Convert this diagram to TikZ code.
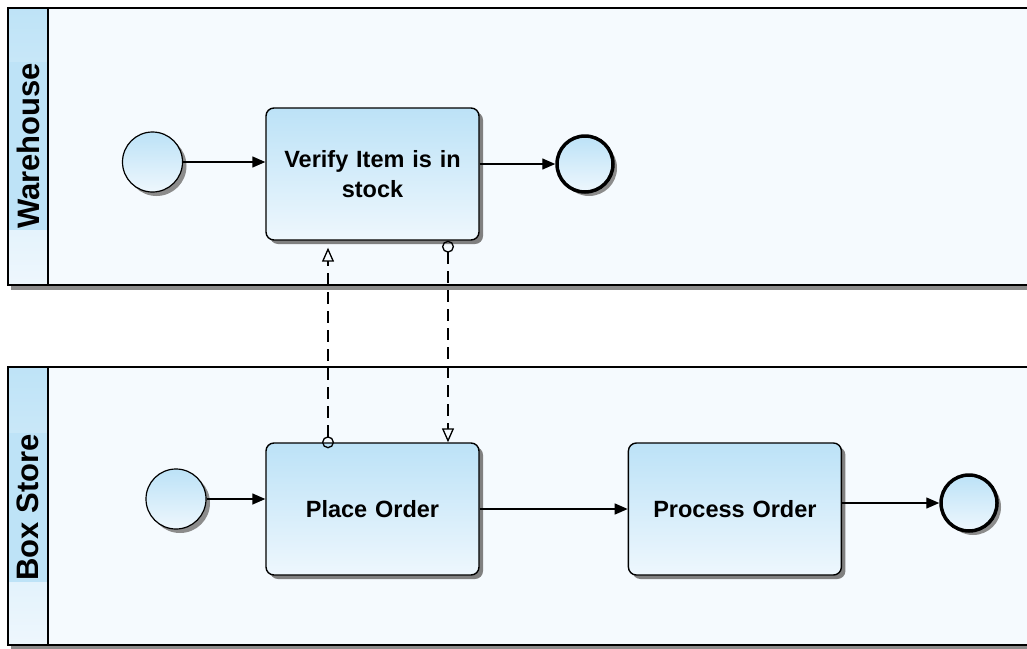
\documentclass[tikz,border=0pt]{standalone}
\usepackage{fontspec}
\setmainfont{Liberation Sans}
\usepackage{tikz}
\usetikzlibrary{ positioning, arrows.meta, shadows }
\usepackage{xcolor}
\definecolor{poolbg}{HTML}{F5FAFE}
\definecolor{lanehi}{HTML}{BEE3F7}
\definecolor{gradtop}{HTML}{BCE2F7}
\definecolor{gradbot}{HTML}{EEF7FD}

\begin{document}
\begin{tikzpicture}[
  x=1pt, y=-1pt,
  node distance=148pt,
  pool/.style={draw, line width=2.2pt, fill=poolbg,
               drop shadow={shadow xshift=3pt, shadow yshift=-5pt, fill=black!45, opacity=1}},
  band/.style={draw, line width=1.6pt, top color=lanehi, bottom color=gradbot},
  lane/.style={rotate=90, fill=lanehi, minimum height=38pt, inner sep=1pt,
               font=\bfseries\fontsize{31}{31}\selectfont},
  task/.style={draw, line width=1.4pt, rounded corners=8pt, top color=gradtop, bottom color=gradbot,
               minimum width=213pt, minimum height=132pt, text width=200pt, align=center,
               font=\bfseries\fontsize{23.5}{30}\selectfont,
               drop shadow={shadow xshift=4pt, shadow yshift=-4pt, fill=black!50, opacity=1}},
  startev/.style={circle, draw, line width=1.2pt, top color=gradtop, bottom color=gradbot,
                  minimum size=60pt, inner sep=0pt,
                  drop shadow={shadow xshift=4pt, shadow yshift=-4pt, fill=black!45, opacity=1}},
  endev/.style={startev, line width=3.5pt, minimum size=56pt},
  flow/.style={-{Triangle[length=13pt,width=11pt]}, line width=1.4pt},
  msg/.style={{Circle[open,length=12pt,width=12pt]}-{Triangle[open,length=14pt,width=12pt]},
              line width=1.3pt, dash pattern=on 12pt off 7pt},
]
  \clip (0,0) rectangle (1027,648);
  \draw[pool] (8,8) rectangle (1040,285);
  \draw[band] (8,8) rectangle (48,285);
  \node[lane] (whLabel) at (28,146) {Warehouse};
  \draw[pool] (8,367) rectangle (1040,645);
  \draw[band] (8,367) rectangle (48,645);
  \node[lane] (bsLabel) at (28,507.5) {Box Store};

  \node[task] (verify) at (372.5,174) {Verify Item is in\\stock};
  \node[startev] (startA) at (152.5,162) {};
  \node[endev] (endA) at (585,164) {};
  \node[task] (place) at (372.5,509) {Place Order};
  \node[task, right=of place] (process) {Process Order};
  \node[startev] (startB) at (176,499) {};
  \node[endev] (endB) at (969,503) {};

  \draw[flow] (startA) -- (startA -| verify.west);
  \draw[flow] (verify.east |- endA) -- (endA);
  \draw[flow] (startB) -- (startB -| place.west);
  \draw[flow] (place) -- (process);
  \draw[flow] (process.east |- endB) -- (endB);
  \draw[msg, shorten <=-6pt, shorten >=7pt] ([xshift=-44.5pt]place.north) -- ([xshift=-44.5pt]verify.south);
  \draw[msg] ([xshift=75.5pt]verify.south) -- ([xshift=75.5pt]place.north);
\end{tikzpicture}
\end{document}
